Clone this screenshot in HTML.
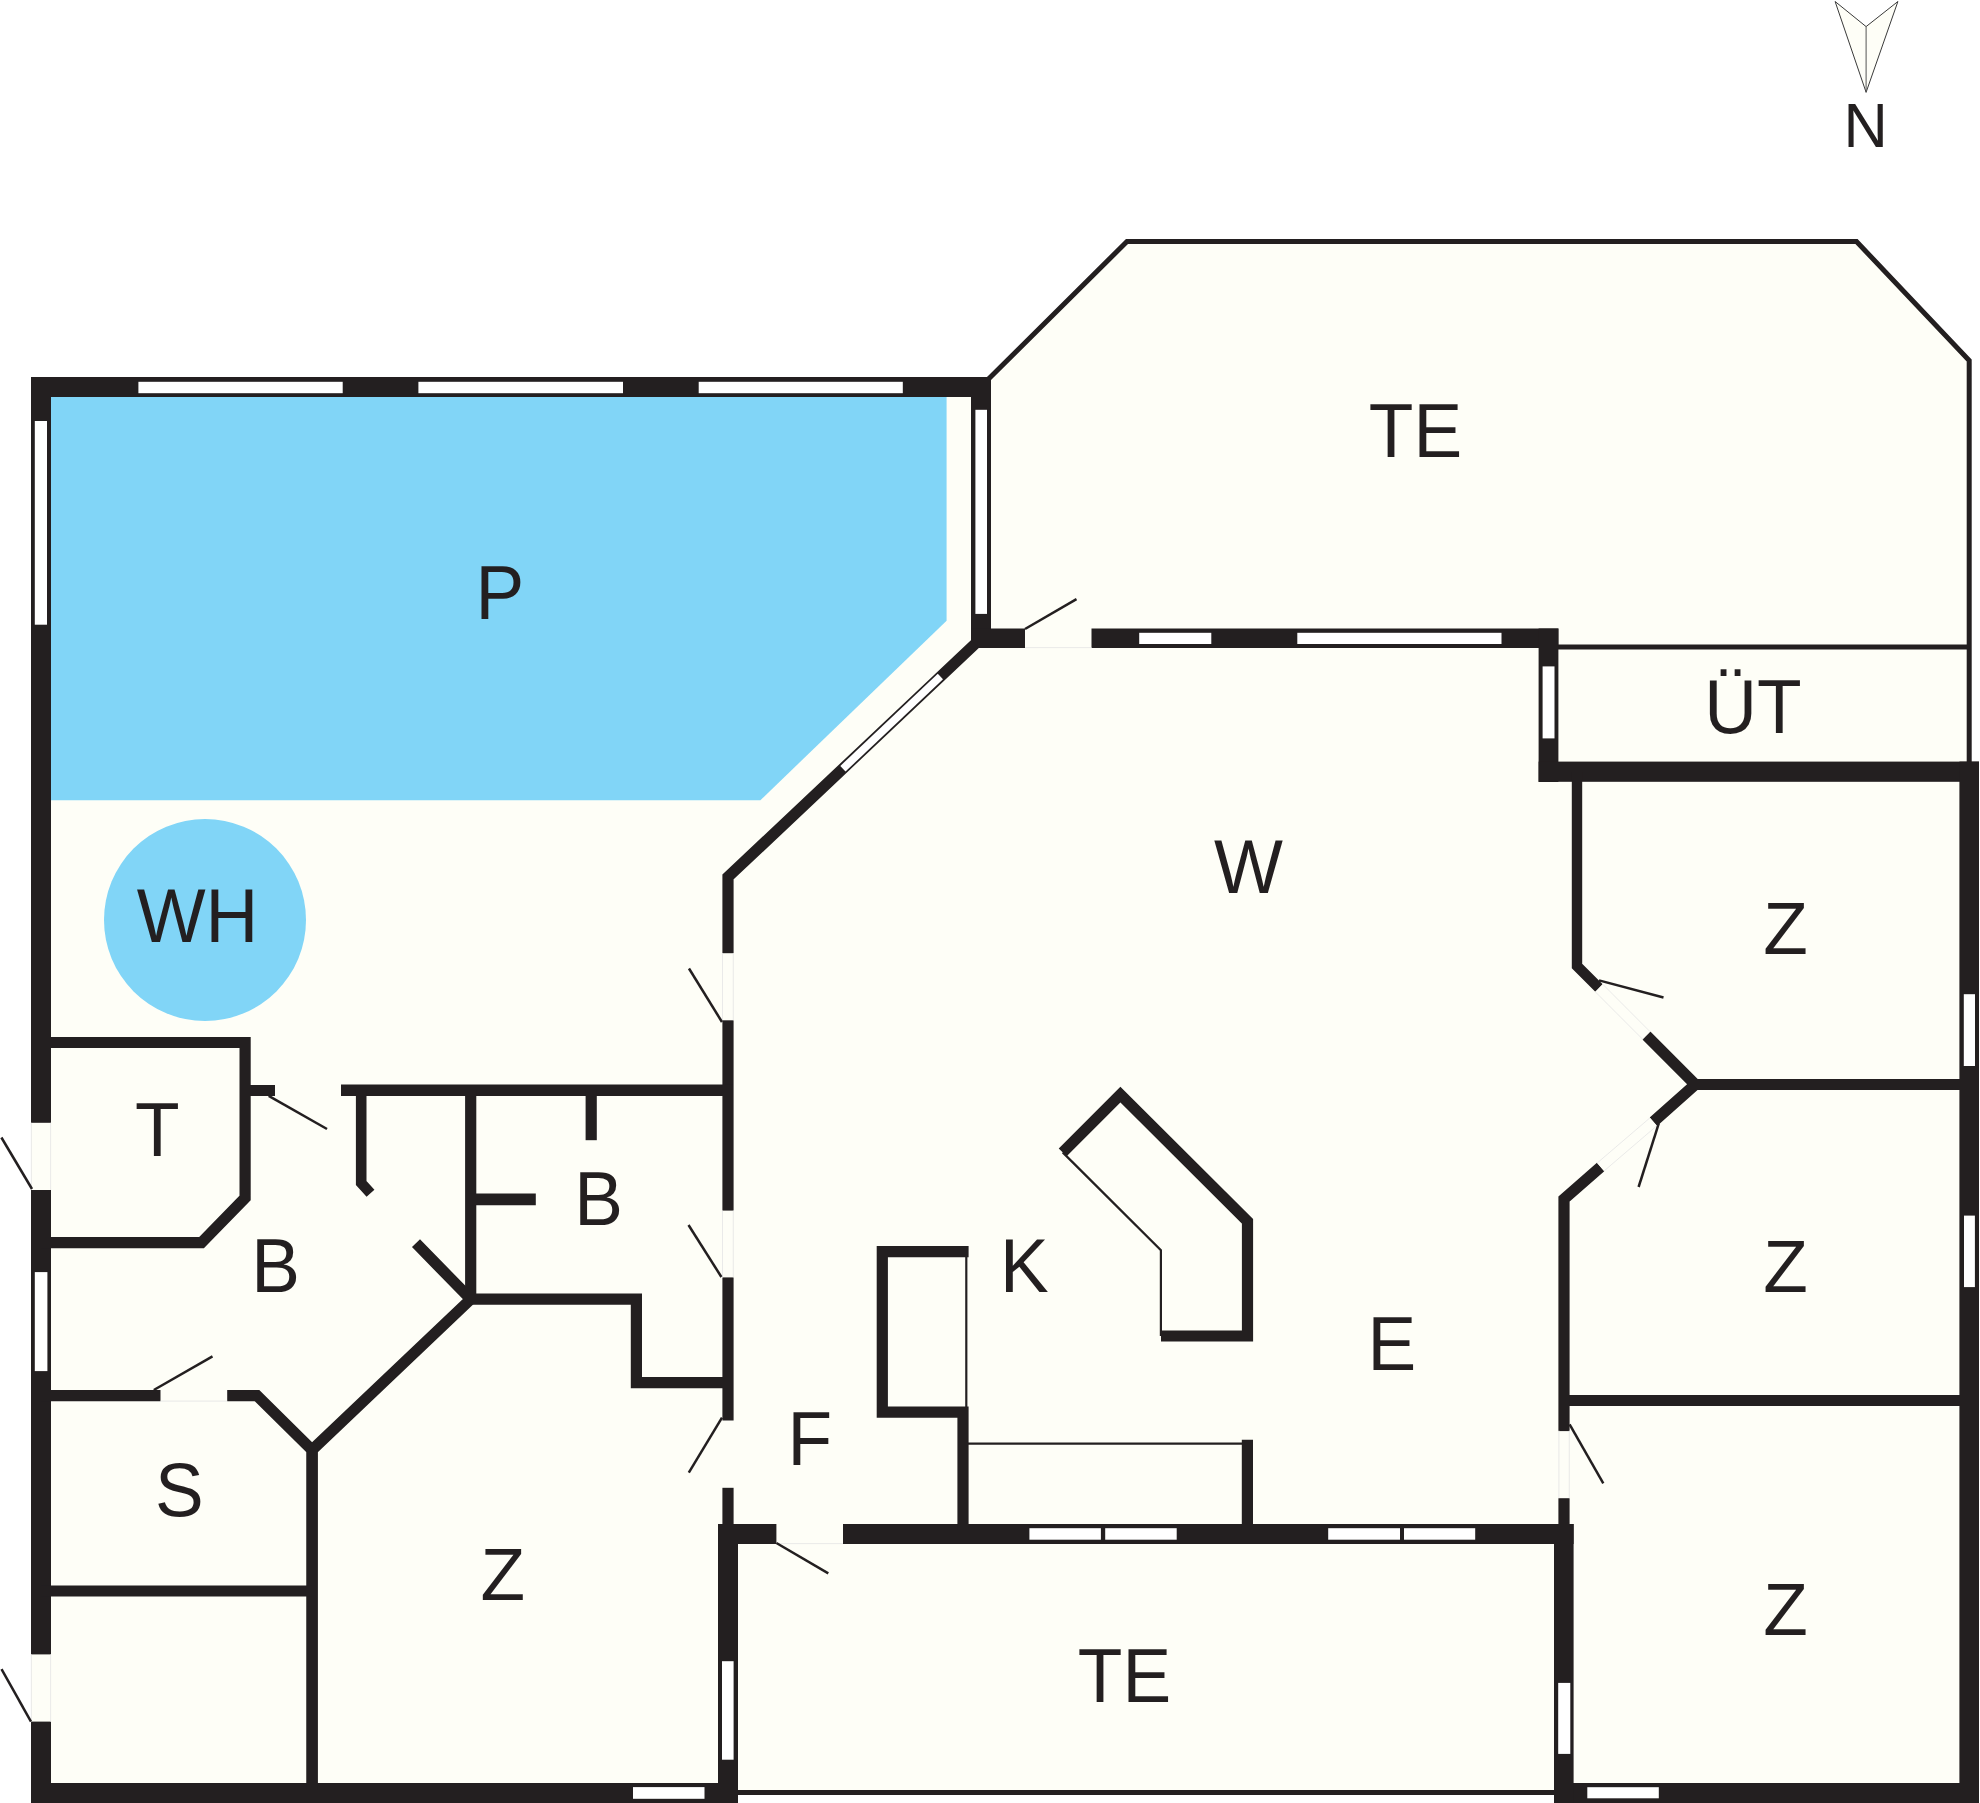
<!DOCTYPE html>
<html><head><meta charset="utf-8"><title>Floor plan</title>
<style>
html,body{margin:0;padding:0;background:#FFFFFF;}
body{width:1980px;height:1803px;overflow:hidden;font-family:"Liberation Sans",sans-serif;}
svg{display:block;}
</style></head>
<body>
<svg width="1980" height="1803" viewBox="0 0 1980 1803">
<polygon points="31,377 988,377 1127,241.5 1856.5,241.5 1969,360.5 1969,762 1979,762 1979,1803 1554,1803 1554,1792.5 738,1792.5 738,1803 31,1803" fill="#FEFEF7"/>
<polygon points="51,397 946.6,397 946.6,620.8 760.4,800.2 51,800.2" fill="#81D5F7"/>
<circle cx="205" cy="920" r="101" fill="#81D5F7"/>
<polyline points="988,379.5 1127,241.5 1856.5,241.5 1969.2,360.5 1969.2,763" fill="none" stroke="#231F20" stroke-width="5" stroke-linejoin="miter" stroke-miterlimit="10" stroke-linecap="butt"/>
<line x1="1558" y1="647" x2="1969" y2="647" stroke="#231F20" stroke-width="5.2" stroke-linecap="butt"/>
<line x1="738" y1="1792.5" x2="1554" y2="1792.5" stroke="#231F20" stroke-width="5" stroke-linecap="butt"/>
<rect x="31" y="377" width="960" height="20" fill="#231F20"/>
<rect x="31" y="377" width="20" height="1426" fill="#231F20"/>
<rect x="971" y="377" width="20" height="271" fill="#231F20"/>
<rect x="971" y="628.5" width="54" height="19.5" fill="#231F20"/>
<rect x="1091.5" y="628.5" width="466.9" height="19.5" fill="#231F20"/>
<rect x="1538.6" y="628.5" width="19.8" height="153.5" fill="#231F20"/>
<rect x="1538.6" y="761.6" width="440.4" height="20.2" fill="#231F20"/>
<rect x="1959.4" y="761.6" width="19.6" height="1041.4" fill="#231F20"/>
<rect x="31" y="1783" width="707" height="20" fill="#231F20"/>
<rect x="1554" y="1783" width="425" height="20" fill="#231F20"/>
<rect x="718" y="1524" width="58.4" height="20" fill="#231F20"/>
<rect x="843" y="1524" width="730.6" height="20" fill="#231F20"/>
<rect x="718" y="1524" width="20" height="279" fill="#231F20"/>
<rect x="1554" y="1524" width="19.6" height="279" fill="#231F20"/>
<rect x="31" y="1122.8" width="20" height="67.2" fill="#FEFEF7"/>
<rect x="31" y="1654.4" width="20" height="67.2" fill="#FEFEF7"/>
<polyline points="975,644 728,877 728,1524" fill="none" stroke="#231F20" stroke-width="11.2" stroke-linejoin="miter" stroke-miterlimit="10" stroke-linecap="butt"/>
<polyline points="41,1042.5 245.1,1042.5 245.1,1198 201.5,1242.7 41,1242.7" fill="none" stroke="#231F20" stroke-width="11.2" stroke-linejoin="miter" stroke-miterlimit="10" stroke-linecap="butt"/>
<rect x="250" y="1085" width="25" height="11" fill="#231F20"/>
<polyline points="341,1090.2 733,1090.2" fill="none" stroke="#231F20" stroke-width="11.6" stroke-linejoin="miter" stroke-miterlimit="10" stroke-linecap="butt"/>
<polyline points="361.2,1090 361.2,1183 370.5,1193.2" fill="none" stroke="#231F20" stroke-width="10.6" stroke-linejoin="miter" stroke-miterlimit="10" stroke-linecap="butt"/>
<polyline points="470.7,1090 470.7,1299.2 636.4,1299.2 636.4,1382.7 728,1382.7" fill="none" stroke="#231F20" stroke-width="11.2" stroke-linejoin="miter" stroke-miterlimit="10" stroke-linecap="butt"/>
<polyline points="591.2,1090 591.2,1140.2" fill="none" stroke="#231F20" stroke-width="11.2" stroke-linejoin="miter" stroke-miterlimit="10" stroke-linecap="butt"/>
<polyline points="470,1199.4 535.8,1199.4" fill="none" stroke="#231F20" stroke-width="11.7" stroke-linejoin="miter" stroke-miterlimit="10" stroke-linecap="butt"/>
<polyline points="416,1243.2 470.7,1299.2 312.1,1450 312.1,1790" fill="none" stroke="#231F20" stroke-width="11.2" stroke-linejoin="miter" stroke-miterlimit="10" stroke-linecap="butt"/>
<polyline points="227.2,1395.7 257,1395.7 312.1,1450 312.1,1790" fill="none" stroke="#231F20" stroke-width="11.2" stroke-linejoin="miter" stroke-miterlimit="10" stroke-linecap="butt"/>
<polyline points="41,1395.7 160.5,1395.7" fill="none" stroke="#231F20" stroke-width="11.2" stroke-linejoin="miter" stroke-miterlimit="10" stroke-linecap="butt"/>
<polyline points="41,1591 312,1591" fill="none" stroke="#231F20" stroke-width="11.2" stroke-linejoin="miter" stroke-miterlimit="10" stroke-linecap="butt"/>
<polyline points="1577,772 1577,966 1599,988" fill="none" stroke="#231F20" stroke-width="10.4" stroke-linejoin="miter" stroke-miterlimit="10" stroke-linecap="butt"/>
<polyline points="1646.4,1035.5 1695.3,1084.5 1653.4,1121.8" fill="none" stroke="#231F20" stroke-width="11.2" stroke-linejoin="miter" stroke-miterlimit="10" stroke-linecap="butt"/>
<polyline points="1690,1084.5 1965,1084.5" fill="none" stroke="#231F20" stroke-width="11.2" stroke-linejoin="miter" stroke-miterlimit="10" stroke-linecap="butt"/>
<polyline points="1600.6,1167 1564,1199 1564,1524" fill="none" stroke="#231F20" stroke-width="11.2" stroke-linejoin="miter" stroke-miterlimit="10" stroke-linecap="butt"/>
<polyline points="1564,1400.5 1965,1400.5" fill="none" stroke="#231F20" stroke-width="11.2" stroke-linejoin="miter" stroke-miterlimit="10" stroke-linecap="butt"/>
<polyline points="968.6,1251.6 882.3,1251.6 882.3,1412.2 963,1412.2 963,1530" fill="none" stroke="#231F20" stroke-width="11.2" stroke-linejoin="miter" stroke-miterlimit="10" stroke-linecap="butt"/>
<polyline points="1247.4,1439.7 1247.4,1530" fill="none" stroke="#231F20" stroke-width="11.2" stroke-linejoin="miter" stroke-miterlimit="10" stroke-linecap="butt"/>
<line x1="966.3" y1="1257" x2="966.3" y2="1407" stroke="#231F20" stroke-width="2.2" stroke-linecap="butt"/>
<line x1="968" y1="1443.6" x2="1242" y2="1443.6" stroke="#231F20" stroke-width="2.2" stroke-linecap="butt"/>
<polyline points="1062.7,1152.4 1120.4,1094.6 1247.5,1221.4 1247.5,1336 1161,1336" fill="none" stroke="#231F20" stroke-width="11.2" stroke-linejoin="miter" stroke-miterlimit="10" stroke-linecap="butt"/>
<polyline points="1062.7,1152.4 1160.9,1250.3 1160.9,1336" fill="none" stroke="#231F20" stroke-width="2.2" stroke-linejoin="miter" stroke-miterlimit="10" stroke-linecap="butt"/>
<rect x="721" y="953.2" width="14" height="67.1" fill="#FEFEF7"/>
<rect x="721" y="1210.6" width="14" height="66.8" fill="#FEFEF7"/>
<rect x="721" y="1420.5" width="14" height="67.3" fill="#FEFEF7"/>
<rect x="1557" y="1431.1" width="14" height="67.1" fill="#FEFEF7"/>
<line x1="31.4" y1="1122.8" x2="31.4" y2="1190" stroke="#E4E4E4" stroke-width="0.8" stroke-linecap="butt"/>
<line x1="50.6" y1="1122.8" x2="50.6" y2="1190" stroke="#E4E4E4" stroke-width="0.8" stroke-linecap="butt"/>
<line x1="31.4" y1="1654.4" x2="31.4" y2="1721.6" stroke="#E4E4E4" stroke-width="0.8" stroke-linecap="butt"/>
<line x1="50.6" y1="1654.4" x2="50.6" y2="1721.6" stroke="#E4E4E4" stroke-width="0.8" stroke-linecap="butt"/>
<line x1="722.5" y1="953.2" x2="722.5" y2="1020.3" stroke="#E4E4E4" stroke-width="0.8" stroke-linecap="butt"/>
<line x1="733.3" y1="953.2" x2="733.3" y2="1020.3" stroke="#E4E4E4" stroke-width="0.8" stroke-linecap="butt"/>
<line x1="722.5" y1="1210.6" x2="722.5" y2="1277.4" stroke="#E4E4E4" stroke-width="0.8" stroke-linecap="butt"/>
<line x1="733.3" y1="1210.6" x2="733.3" y2="1277.4" stroke="#E4E4E4" stroke-width="0.8" stroke-linecap="butt"/>
<line x1="1558.9" y1="1430.6" x2="1558.9" y2="1498.2" stroke="#E4E4E4" stroke-width="0.8" stroke-linecap="butt"/>
<line x1="1569.3" y1="1430.6" x2="1569.3" y2="1498.2" stroke="#E4E4E4" stroke-width="0.8" stroke-linecap="butt"/>
<line x1="1025" y1="647.6" x2="1091.5" y2="647.6" stroke="#E4E4E4" stroke-width="0.8" stroke-linecap="butt"/>
<line x1="776.4" y1="1543.6" x2="843" y2="1543.6" stroke="#E4E4E4" stroke-width="0.8" stroke-linecap="butt"/>
<line x1="160.5" y1="1401.1" x2="227.2" y2="1401.1" stroke="#E4E4E4" stroke-width="0.8" stroke-linecap="butt"/>
<rect x="138.4" y="381.8" width="204.3" height="11.4" fill="#FFFFFF"/>
<rect x="418.4" y="381.8" width="204.6" height="11.4" fill="#FFFFFF"/>
<rect x="698.7" y="381.8" width="204.1" height="11.4" fill="#FFFFFF"/>
<rect x="34.8" y="421" width="12.2" height="203.7" fill="#FFFFFF"/>
<rect x="975.4" y="409.8" width="11.6" height="204.1" fill="#FFFFFF"/>
<rect x="1139.2" y="632.8" width="72.1" height="11.2" fill="#FFFFFF"/>
<rect x="1297.3" y="632.8" width="204.2" height="11.2" fill="#FFFFFF"/>
<rect x="1542.6" y="666.4" width="11.9" height="72" fill="#FFFFFF"/>
<rect x="34.8" y="1272.1" width="12.6" height="99" fill="#FFFFFF"/>
<rect x="1963.8" y="994.2" width="11.2" height="71.8" fill="#FFFFFF"/>
<rect x="1964" y="1215.6" width="10.9" height="71.5" fill="#FFFFFF"/>
<rect x="1587.3" y="1787.2" width="71.5" height="11.1" fill="#FFFFFF"/>
<rect x="1558.2" y="1682.9" width="12.1" height="71" fill="#FFFFFF"/>
<rect x="722" y="1661.2" width="11.6" height="98.5" fill="#FFFFFF"/>
<rect x="633" y="1787.1" width="71.5" height="11.7" fill="#FFFFFF"/>
<rect x="1029.4" y="1528.2" width="71.5" height="11.5" fill="#FFFFFF"/>
<rect x="1105.2" y="1528.2" width="71.5" height="11.5" fill="#FFFFFF"/>
<rect x="1328.2" y="1528.2" width="71.8" height="11.5" fill="#FFFFFF"/>
<rect x="1404" y="1528.2" width="71.2" height="11.5" fill="#FFFFFF"/>
<line x1="842.9" y1="768.7" x2="940.4" y2="676.6" stroke="#FFFFFF" stroke-width="7.6" stroke-linecap="butt"/>
<line x1="1599" y1="988" x2="1646.4" y2="1035.5" stroke="#FEFEF7" stroke-width="12.5" stroke-linecap="butt"/>
<line x1="1653.4" y1="1121.8" x2="1600.6" y2="1167" stroke="#FEFEF7" stroke-width="12.5" stroke-linecap="butt"/>
<line x1="1602.8" y1="984.3" x2="1650.2" y2="1031.8" stroke="#E4E4E4" stroke-width="0.8" stroke-linecap="butt"/>
<line x1="1595.2" y1="991.7" x2="1642.6" y2="1039.2" stroke="#E4E4E4" stroke-width="0.8" stroke-linecap="butt"/>
<line x1="1656.8" y1="1125.8" x2="1604" y2="1171" stroke="#E4E4E4" stroke-width="0.8" stroke-linecap="butt"/>
<line x1="1650" y1="1117.8" x2="1597.2" y2="1163" stroke="#E4E4E4" stroke-width="0.8" stroke-linecap="butt"/>
<line x1="32" y1="1189" x2="1.4" y2="1137.5" stroke="#231F20" stroke-width="2.5" stroke-linecap="butt"/>
<line x1="31" y1="1721.6" x2="1.5" y2="1669.2" stroke="#231F20" stroke-width="2.5" stroke-linecap="butt"/>
<line x1="1025" y1="629" x2="1076.5" y2="599.2" stroke="#231F20" stroke-width="2.5" stroke-linecap="butt"/>
<line x1="268.7" y1="1095.8" x2="327" y2="1129" stroke="#231F20" stroke-width="2.5" stroke-linecap="butt"/>
<line x1="153.8" y1="1390" x2="212.5" y2="1356.4" stroke="#231F20" stroke-width="2.5" stroke-linecap="butt"/>
<line x1="722" y1="1022" x2="689" y2="968.5" stroke="#231F20" stroke-width="2.5" stroke-linecap="butt"/>
<line x1="721.4" y1="1277" x2="688.5" y2="1225" stroke="#231F20" stroke-width="2.5" stroke-linecap="butt"/>
<line x1="722" y1="1417.7" x2="688.8" y2="1472.7" stroke="#231F20" stroke-width="2.5" stroke-linecap="butt"/>
<line x1="776.4" y1="1543" x2="828.3" y2="1573.3" stroke="#231F20" stroke-width="2.5" stroke-linecap="butt"/>
<line x1="1599" y1="980.4" x2="1663.5" y2="997.5" stroke="#231F20" stroke-width="2.5" stroke-linecap="butt"/>
<line x1="1658.8" y1="1123.3" x2="1638.6" y2="1187" stroke="#231F20" stroke-width="2.5" stroke-linecap="butt"/>
<line x1="1569.6" y1="1424.4" x2="1603.3" y2="1483.3" stroke="#231F20" stroke-width="2.5" stroke-linecap="butt"/>
<polygon points="1835.1,1.5 1866.1,26.6 1897.9,1.5 1866.1,92.3" fill="#FEFEF7" stroke="#3a3a3a" stroke-width="1" stroke-linejoin="miter"/>
<line x1="1866.1" y1="26.6" x2="1866.1" y2="92.3" stroke="#555" stroke-width="1" stroke-linecap="butt"/>
<g font-family="Liberation Sans, sans-serif" fill="#231F20">
<text transform="translate(475.5 618.5) scale(1 1.04)" font-size="73">P</text>
<text transform="translate(1368.8 456.6) scale(1 1.04)" font-size="73">TE</text>
<text transform="translate(136.7 941.6) scale(1 1.04)" font-size="73">WH</text>
<text transform="translate(135 1155.9) scale(1 1.04)" font-size="73">T</text>
<text transform="translate(251.2 1291.5) scale(1 1.04)" font-size="73">B</text>
<text transform="translate(574.3 1225) scale(1 1.04)" font-size="73">B</text>
<text transform="translate(155 1516.2) scale(1 1.04)" font-size="73">S</text>
<text transform="translate(480.4 1600.2) scale(1 1.01)" font-size="73">Z</text>
<text transform="translate(1213.9 893) scale(1 1.04)" font-size="73">W</text>
<text transform="translate(1000.1 1291.5) scale(1 1.04)" font-size="73">K</text>
<text transform="translate(1367.4 1370) scale(1 1.04)" font-size="73">E</text>
<text transform="translate(787.6 1465.1) scale(1 1.04)" font-size="73">F</text>
<text transform="translate(1077.8 1702.4) scale(1 1.04)" font-size="73">TE</text>
<text transform="translate(1704.2 732.6) scale(1 1.04)" font-size="73">ÜT</text>
<text transform="translate(1763.3 953.5) scale(1 1.01)" font-size="73">Z</text>
<text transform="translate(1763.3 1292.2) scale(1 1.01)" font-size="73">Z</text>
<text transform="translate(1763.3 1635.2) scale(1 1.01)" font-size="73">Z</text>
<text transform="translate(1843.6 147.3) scale(1 1.04)" font-size="61.3">N</text>
</g>
</svg>
</body></html>
